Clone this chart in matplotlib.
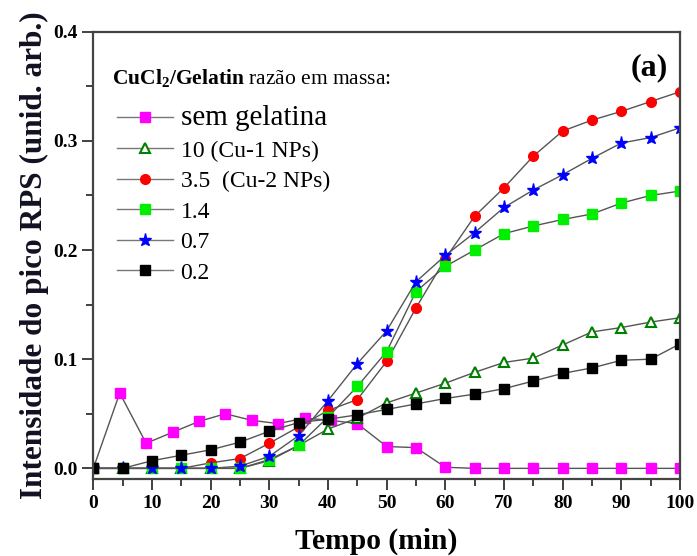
#-*- coding: utf-8 -*-
# intensidade do pico RPS vs tempo, razões CuCl2/gelatina
import matplotlib
matplotlib.use('Agg')
import matplotlib.pyplot as plt
from matplotlib.ticker import MultipleLocator

plt.rcParams['font.family'] = ['Liberation Serif', 'DejaVu Serif']
plt.rcParams['mathtext.fontset'] = 'custom'
plt.rcParams['mathtext.rm'] = 'Liberation Serif'
plt.rcParams['mathtext.bf'] = 'Liberation Serif:bold'

# tempo (min)
t = [0, 5, 10, 15, 20, 25, 30, 35, 40, 45, 50, 55, 60, 65, 70, 75, 80, 85, 90, 95, 100]
t_sem = [0, 4.5, 9, 13.5, 18, 22.5, 27, 31.5, 36, 40.5, 45, 50, 55, 60, 65, 70, 75, 80, 85, 90, 95, 100]

sem_gelatina = [0, 0.069, 0.023, 0.033, 0.043, 0.050, 0.044, 0.041, 0.046, 0.044, 0.041,
                0.020, 0.019, 0.001, 0, 0, 0, 0, 0, 0, 0, 0]
r10 = [0, 0, 0, 0, 0, 0, 0.007, 0.021, 0.036, 0.046, 0.060, 0.069, 0.078, 0.088, 0.097,
       0.101, 0.113, 0.125, 0.129, 0.134, 0.138]
r35 = [0, 0, 0, 0, 0.005, 0.009, 0.023, 0.038, 0.053, 0.063, 0.098, 0.147, 0.192, 0.231,
       0.257, 0.286, 0.309, 0.319, 0.327, 0.336, 0.345]
r14 = [0, 0, 0, 0, 0, 0, 0.008, 0.021, 0.047, 0.075, 0.107, 0.162, 0.185, 0.200, 0.215,
       0.222, 0.228, 0.233, 0.243, 0.250, 0.254]
r07 = [0, 0, 0, 0, 0, 0.002, 0.011, 0.030, 0.062, 0.096, 0.126, 0.171, 0.195, 0.216, 0.239,
       0.255, 0.269, 0.284, 0.298, 0.303, 0.312]
r02 = [0, 0, 0.007, 0.012, 0.017, 0.024, 0.034, 0.042, 0.045, 0.049, 0.054, 0.059, 0.064,
       0.068, 0.073, 0.080, 0.087, 0.092, 0.099, 0.100, 0.114]

labels = ['sem gelatina', '10 (Cu-1 NPs)', '3.5  (Cu-2 NPs)', '1.4', '0.7', '0.2']

fig = plt.figure(figsize=(6.97, 5.56), dpi=100)
ax = fig.add_axes([0.1339, 0.138, 0.8417, 0.805])

lc = '#555555'
h_sem, = ax.plot(t_sem, sem_gelatina, '-s', color=lc, lw=1, mfc='#FF00FF', mec='#FF00FF', ms=6.5)
h10, = ax.plot(t, r10, '-^', color=lc, lw=1, mfc='white', mec='#008000', mew=1.5, ms=7.5)
h35, = ax.plot(t, r35, '-o', color=lc, lw=1, mfc='#FF0000', mec='#FF0000', ms=7)
h14, = ax.plot(t, r14, '-s', color=lc, lw=1, mfc='#00EE00', mec='#00EE00', ms=6.5)
h07, = ax.plot(t, r07, '-*', color=lc, lw=1, mfc='#0000FF', mec='#0000FF', ms=9.5)
h02, = ax.plot(t, r02, '-s', color=lc, lw=1, mfc='black', mec='black', ms=6.5)

ax.set_xlim(0, 100)
ax.set_ylim(-0.01, 0.4)
ax.xaxis.set_major_locator(MultipleLocator(10))
ax.xaxis.set_minor_locator(MultipleLocator(5))
ax.yaxis.set_major_locator(MultipleLocator(0.1))
ax.yaxis.set_minor_locator(MultipleLocator(0.05))
ax.yaxis.set_major_formatter(matplotlib.ticker.FormatStrFormatter('%.1f'))
ax.tick_params(which='major', direction='out', length=8, width=1.3, colors='#333333',
               labelsize=14, labelcolor='black')
ax.tick_params(which='minor', direction='out', length=5, width=1.3, colors='#333333')
for lb in ax.get_xticklabels() + ax.get_yticklabels():
    lb.set_fontweight('bold')
for s in ax.spines.values():
    s.set_linewidth(1.6)
    s.set_color('#444444')

ax.set_xlabel('Tempo (min)', fontsize=21.3, fontweight='bold')
ax.xaxis.set_label_coords(0.482, -0.109)
ax.set_ylabel('Intensidade do pico RPS (unid. arb.)', fontsize=22.5, fontweight='bold',
              color='#111122', labelpad=3)

ax.text(0.98, 0.919, '(a)', transform=ax.transAxes, fontsize=23, fontweight='bold',
        ha='right', va='center')

# titulo da legenda (parte em negrito via mathtext)
ax.text(0.032, 0.897, r'$\mathbf{CuCl_2/Gelatin}$ razão em massa:', transform=ax.transAxes,
        fontsize=15.5, ha='left', va='center')

leg = ax.legend([h_sem, h10, h35, h14, h07, h02], labels,
                loc='upper left', bbox_to_anchor=(0.04, 0.836), frameon=False,
                fontsize=17, handlelength=2.4, handletextpad=0.3, labelspacing=0.38,
                borderpad=0, borderaxespad=0)
leg.get_texts()[0].set_fontsize(21)
for ln in leg.get_lines():
    ln.set_color('#777777')

fig.savefig('out.png', dpi=100)
